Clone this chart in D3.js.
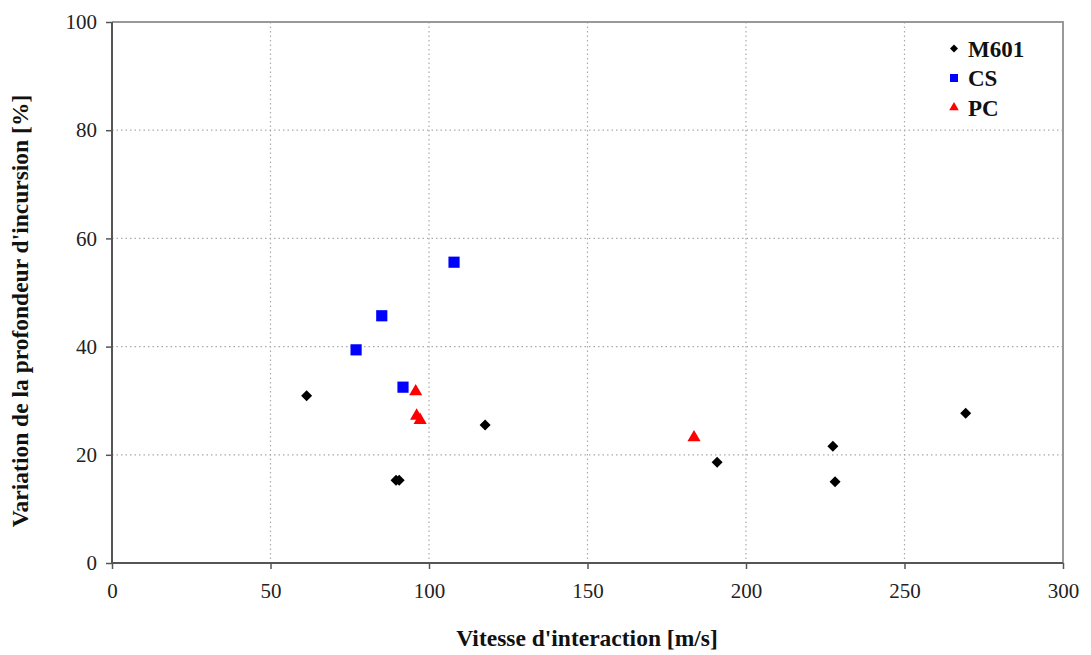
<!DOCTYPE html>
<html><head><meta charset="utf-8">
<script src="https://cdn.jsdelivr.net/npm/d3@7"></script>
<style>body{margin:0;background:#fff}svg{display:block}text{font-family:"Liberation Serif","Times New Roman",serif}</style>
</head><body>
<svg id="c" width="1091" height="655"></svg>
<script>
const m601X = [61.4, 89.6, 90.6, 117.7, 190.9, 227.4, 228.1, 269.3];
const m601Y = [30.9, 15.3, 15.3, 25.5, 18.6, 21.6, 15.0, 27.7];
const csX = [77.0, 85.1, 91.8, 107.9];
const csY = [39.4, 45.7, 32.5, 55.6];
const pcX = [95.8, 96.1, 97.2, 183.6];
const pcY = [31.7, 27.2, 26.4, 23.2];
const xTicks = [0, 50, 100, 150, 200, 250, 300];
const yTicks = [0, 20, 40, 60, 80, 100];
const seriesNames = ["M601", "CS", "PC"];

const svg = d3.select("#c");
const L = 112, R = 1063, T = 22, B = 563;
const x = d3.scaleLinear().domain([0, 300]).range([L, R]);
const y = d3.scaleLinear().domain([0, 100]).range([B, T]);

// gridlines
svg.append("g").selectAll("line").data(xTicks.filter(d => d > 0 && d < 300)).join("line")
  .attr("x1", d => x(d)).attr("x2", d => x(d)).attr("y1", T).attr("y2", B)
  .attr("stroke", "#aaa").attr("stroke-width", 1.2).attr("stroke-dasharray", "1.5,3");
svg.append("g").selectAll("line").data(yTicks.filter(d => d > 0 && d < 100)).join("line")
  .attr("x1", L).attr("x2", R).attr("y1", d => y(d)).attr("y2", d => y(d))
  .attr("stroke", "#aaa").attr("stroke-width", 1.2).attr("stroke-dasharray", "1.5,3");

// plot border top/right
svg.append("path").attr("d", `M${L},${T}H${R}V${B}`).attr("fill", "none").attr("stroke", "#999").attr("stroke-width", 2);

// axes
const xAxis = svg.append("g").attr("transform", `translate(0,${B})`)
  .call(d3.axisBottom(x).tickValues(xTicks).tickSize(6).tickPadding(14).tickFormat(d3.format("d")));
const yAxis = svg.append("g").attr("transform", `translate(${L},0)`)
  .call(d3.axisLeft(y).tickValues(yTicks).tickSize(6).tickPadding(9).tickFormat(d3.format("d")));
[xAxis, yAxis].forEach(a => {
  a.attr("font-size", 21).attr("font-family", "'Liberation Serif', serif");
  a.select(".domain").attr("stroke", "#555").attr("stroke-width", 2);
  a.selectAll(".tick line").attr("stroke", "#555").attr("stroke-width", 1.5);
  a.selectAll(".tick text").attr("fill", "#222");
});
xAxis.select(".domain").attr("d", `M${L},0H${R}`);
yAxis.select(".domain").attr("d", `M0,${T}V${B}`);

// series
const diamondPath = r => `M0,${-r}L${r},0L0,${r}L${-r},0Z`;
const square = d3.symbol().type(d3.symbolSquare).size(125);
const tri = d3.symbol().type(d3.symbolTriangle).size(75);

svg.append("g").selectAll("path").data(m601X.map((v, i) => [v, m601Y[i]])).join("path")
  .attr("d", diamondPath(5.5)).attr("transform", d => `translate(${x(d[0])},${y(d[1])})`).attr("fill", "#000");
svg.append("g").selectAll("path").data(csX.map((v, i) => [v, csY[i]])).join("path")
  .attr("d", square).attr("transform", d => `translate(${x(d[0])},${y(d[1])})`).attr("fill", "#0000ff");
svg.append("g").selectAll("path").data(pcX.map((v, i) => [v, pcY[i]])).join("path")
  .attr("d", tri).attr("transform", d => `translate(${x(d[0])},${y(d[1])})`).attr("fill", "#ff0000");

// legend
const leg = svg.append("g");
const legSyms = [diamondPath(4), d3.symbol().type(d3.symbolSquare).size(64)(), d3.symbol().type(d3.symbolTriangle).size(40)()];
const legCols = ["#000", "#0000ff", "#ff0000"];
seriesNames.forEach((n, i) => {
  const yy = 48.5 + i * 29.5;
  leg.append("path").attr("d", legSyms[i]).attr("transform", `translate(954,${yy})`).attr("fill", legCols[i]);
  leg.append("text").attr("x", 968).attr("y", yy + 8).attr("font-size", 23).attr("font-weight", "bold").attr("fill", "#111").text(n);
});

// titles
svg.append("text").attr("x", 587).attr("y", 646).attr("text-anchor", "middle")
  .attr("font-size", 23.5).attr("font-weight", "bold").attr("fill", "#111").text("Vitesse d'interaction [m/s]");
svg.append("text").attr("transform", `translate(28,${311}) rotate(-90)`).attr("text-anchor", "middle")
  .attr("font-size", 23.5).attr("font-weight", "bold").attr("fill", "#111").text("Variation de la profondeur d'incursion [%]");
</script>
</body></html>
